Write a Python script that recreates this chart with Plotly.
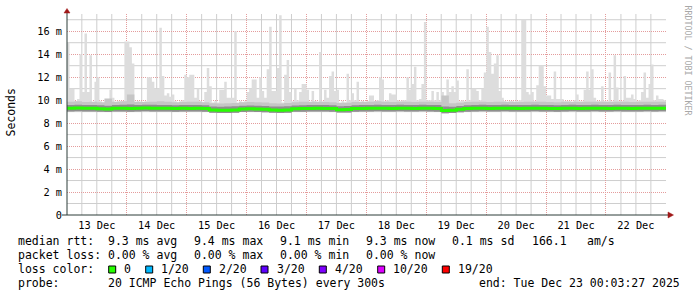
import pandas as pd
import plotly.graph_objects as go

# ---------------- data ----------------
start = "2025-12-13 00:03:27"
end = "2025-12-23 00:03:27"

# hourly max ping (ms) - top of the light smoke
ping_max = [
    15.0, 11.0, 11.0, 9.9, 10.1, 14.0, 10.7, 15.8, 10.7, 13.9,
    9.8, 11.6, 12.0, 9.9, 9.7, 9.7, 9.8, 10.9, 10.2, 9.8,
    9.9, 9.8, 9.9, 15.1, 15.1, 14.6, 13.2, 9.8, 9.9, 9.8,
    9.8, 9.9, 12.0, 12.0, 11.6, 11.0, 11.0, 16.3, 12.1, 10.4,
    10.6, 10.3, 10.5, 9.9, 9.8, 9.9, 10.0, 12.2, 12.0, 12.2,
    12.2, 10.2, 11.0, 9.9, 9.8, 10.7, 12.8, 11.2, 9.8, 9.9,
    9.8, 10.9, 10.9, 11.6, 10.2, 10.2, 10.2, 16.0, 9.8, 9.9,
    9.8, 9.9, 10.7, 11.0, 11.8, 11.8, 10.2, 12.0, 10.8, 10.2,
    12.7, 16.4, 10.8, 10.8, 12.8, 17.4, 9.8, 12.2, 13.5, 10.7,
    9.9, 11.0, 10.0, 10.7, 11.4, 11.4, 10.9, 9.8, 10.8, 9.9,
    9.8, 14.2, 9.9, 10.9, 10.2, 12.1, 12.5, 10.8, 10.9, 9.8,
    9.9, 9.8, 12.3, 10.0, 10.6, 10.0, 11.6, 9.8, 9.9, 9.8,
    9.9, 10.4, 10.4, 9.9, 10.0, 12.0, 11.8, 9.9, 10.0, 10.6,
    10.5, 10.5, 10.0, 9.9, 10.0, 10.0, 12.0, 10.9, 11.4, 12.9,
    10.0, 10.1, 11.4, 16.8, 10.0, 10.0, 10.8, 10.0, 10.7, 10.0,
    10.7, 9.9, 11.8, 10.7, 11.2, 10.7, 11.7, 9.9, 10.0, 9.9,
    12.7, 10.0, 11.0, 11.0, 10.8, 10.0, 11.0, 12.4, 16.4, 14.2,
    12.3, 13.2, 13.9, 10.8, 10.2, 9.9, 9.8, 9.9, 9.9, 9.8,
    9.9, 10.0, 17.0, 17.0, 10.7, 10.5, 10.7, 9.9, 11.3, 13.0,
    13.0, 11.2, 10.4, 10.4, 10.1, 12.5, 10.1, 10.1, 10.1, 9.9,
    9.9, 9.9, 9.8, 10.0, 10.5, 9.9, 9.9, 10.9, 12.5, 10.9,
    12.7, 10.2, 9.9, 9.9, 11.2, 9.9, 9.9, 12.4, 9.9, 13.9,
    11.1, 9.9, 9.9, 12.1, 10.2, 10.2, 10.5, 10.1, 9.9, 10.0,
    10.7, 12.4, 10.2, 11.4, 13.1, 10.0, 10.4, 10.1, 10.1, 10.0,
]

# 3-hourly median rtt (ms)
rtt_median = [
    9.30, 9.31, 9.30, 9.29, 9.24, 9.22, 9.29, 9.30, 9.27, 9.30,
    9.31, 9.30, 9.30, 9.29, 9.28, 9.30, 9.28, 9.29, 9.27, 9.14,
    9.12, 9.13, 9.15, 9.22, 9.24, 9.22, 9.20, 9.14, 9.13, 9.15,
    9.24, 9.27, 9.28, 9.29, 9.28, 9.27, 9.16, 9.18, 9.27, 9.28,
    9.29, 9.30, 9.29, 9.28, 9.30, 9.29, 9.28, 9.30, 9.29, 9.27,
    9.10, 9.12, 9.20, 9.27, 9.29, 9.30, 9.28, 9.29, 9.30, 9.29,
    9.28, 9.29, 9.30, 9.29, 9.28, 9.27, 9.29, 9.30, 9.28, 9.29,
    9.30, 9.29, 9.28, 9.30, 9.29, 9.28, 9.29, 9.30, 9.29, 9.30,
]

# 3-hourly smoke quantiles (ms)
smoke_low = [
    9.02, 9.03, 9.02, 9.01, 8.98, 8.97, 9.01, 9.02, 9.00, 9.02,
    9.03, 9.02, 9.02, 9.01, 9.00, 9.02, 9.01, 9.01, 9.00, 8.90,
    8.88, 8.89, 8.91, 8.97, 8.98, 8.97, 8.95, 8.90, 8.89, 8.91,
    8.98, 9.00, 9.01, 9.02, 9.01, 9.00, 8.92, 8.93, 9.00, 9.01,
    9.02, 9.03, 9.02, 9.01, 9.03, 9.02, 9.01, 9.03, 9.02, 9.00,
    8.86, 8.88, 8.95, 9.00, 9.02, 9.03, 9.01, 9.02, 9.03, 9.02,
    9.01, 9.02, 9.03, 9.02, 9.01, 9.00, 9.02, 9.03, 9.01, 9.02,
    9.03, 9.02, 9.01, 9.03, 9.02, 9.01, 9.02, 9.03, 9.02, 9.03,
]
smoke_q75 = [
    9.58, 9.60, 9.57, 9.58, 9.55, 9.52, 9.57, 9.60, 9.62, 9.58,
    9.59, 9.60, 9.57, 9.58, 9.56, 9.58, 9.57, 9.58, 9.55, 9.45,
    9.42, 9.44, 9.46, 9.52, 9.54, 9.52, 9.50, 9.45, 9.44, 9.46,
    9.53, 9.56, 9.57, 9.58, 9.57, 9.56, 9.47, 9.48, 9.56, 9.57,
    9.58, 9.59, 9.58, 9.57, 9.59, 9.58, 9.57, 9.60, 9.58, 9.57,
    9.45, 9.43, 9.50, 9.56, 9.58, 9.59, 9.57, 9.58, 9.59, 9.58,
    9.57, 9.58, 9.59, 9.58, 9.57, 9.56, 9.58, 9.59, 9.57, 9.58,
    9.59, 9.58, 9.57, 9.59, 9.58, 9.57, 9.58, 9.59, 9.58, 9.59,
]
smoke_upper = [
    9.85, 9.90, 9.84, 9.86, 9.82, 10.15, 9.85, 9.90, 10.50, 9.85,
    9.84, 9.86, 9.90, 9.85, 9.82, 9.84, 9.86, 9.85, 9.82, 9.72,
    9.70, 9.72, 9.75, 9.82, 9.84, 9.82, 9.80, 9.72, 9.71, 9.75,
    9.82, 9.85, 9.86, 9.85, 9.84, 9.82, 9.75, 9.77, 9.84, 9.85,
    9.86, 9.90, 9.85, 9.84, 9.86, 9.85, 9.84, 9.86, 9.85, 9.84,
    10.40, 9.72, 9.78, 9.84, 9.85, 9.86, 9.84, 9.85, 9.86, 9.85,
    9.84, 9.85, 9.86, 9.85, 9.84, 9.82, 9.85, 9.86, 9.84, 9.85,
    9.86, 9.85, 9.84, 9.86, 9.85, 9.84, 9.85, 9.86, 9.85, 9.86,
]

day_ticks = ["2025-12-%02d 12:00" % d for d in range(13, 23)]
day_labels = ["13 Dec", "14 Dec", "15 Dec", "16 Dec", "17 Dec",
              "18 Dec", "19 Dec", "20 Dec", "21 Dec", "22 Dec"]
grid_days = ["2025-12-%02d 00:00" % d for d in range(14, 24)]
grid_quarters = [t.strftime("%Y-%m-%d %H:%M")
                 for t in pd.date_range("2025-12-13 06:00", "2025-12-22 18:00", freq="6h")
                 if t.hour != 0]
y_ticks = [0, 2, 4, 6, 8, 10, 12, 14, 16]
y_labels = ["0", "2 m", "4 m", "6 m", "8 m", "10 m", "12 m", "14 m", "16 m"]
y_minor = [1, 3, 5, 7, 9, 11, 13, 15, 17]
y_top = 17.5

rtt_stats = [9.3, 9.4, 9.1, 9.3]
loss_stats = [0.00, 0.00, 0.00, 0.00]
stat_names = ["avg", "max", "min", "now"]
rtt_sd = 0.1
am_s = 166.1
loss_levels = ["0", "1/20", "2/20", "3/20", "4/20", "10/20", "19/20"]
loss_colors = ["#26ff00", "#00b8ff", "#0059ff", "#5e00ff", "#7e00ff", "#dd00ff", "#ff0000"]
probe_text = "20 ICMP Echo Pings (56 Bytes) every 300s"
end_text = "end: Tue Dec 23 00:03:27 2025"

# ---------------- geometry / style ----------------
W, H = 697, 297
PL, PT, PW, PH = 67, 14, 599, 201
MONO = "DejaVu Sans Mono"
MGRID = "#e49c9c"
GRID = "#cecece"
DASH = "1px,1px"


def px(x):
    return (x - PL) / PW


def py(y):
    return (PT + PH - y) / PH


t_hour = pd.date_range(start, periods=len(ping_max) + 1, freq="h")
t_3h = pd.date_range(start, periods=len(rtt_median) + 1, freq="3h")


def ext(a):
    return list(a) + [a[-1]]


fig = go.Figure()

# minor (grey) grid lines as shapes tied to the data axes
shapes = []
for t in grid_quarters:
    shapes.append(dict(type="line", xref="x", yref="y", x0=t, x1=t, y0=0, y1=y_top,
                       layer="below", line=dict(color=GRID, width=1)))
for v in y_minor:
    shapes.append(dict(type="line", xref="x", yref="y", x0=start, x1=end, y0=v, y1=v,
                       layer="below", line=dict(color=GRID, width=1)))


def band(lx, ly, ux, uy, color):
    fig.add_trace(go.Scatter(x=lx, y=ext(ly), mode="lines",
                             line=dict(width=0, shape="hv"), hoverinfo="skip"))
    fig.add_trace(go.Scatter(x=ux, y=ext(uy), mode="lines",
                             line=dict(width=0, shape="hv"), fill="tonexty",
                             fillcolor=color, hoverinfo="skip"))


band(t_3h, smoke_low, t_hour, ping_max, "#dddddd")
band(t_3h, smoke_low, t_3h, smoke_upper, "#c6c6c6")
band(t_3h, smoke_low, t_3h, smoke_q75, "#8e8e8e")

fig.add_trace(go.Scatter(x=t_3h, y=ext(rtt_median), mode="lines",
                         line=dict(color=loss_colors[0], width=3, shape="hv"),
                         hoverinfo="skip"))
# empty helper trace so the label axis is drawn
fig.add_trace(go.Scatter(x=[start, end], y=[None, None], xaxis="x2", yaxis="y",
                         mode="lines", hoverinfo="skip"))

axis_common = dict(type="date", range=[start, end], ticks="", showline=False,
                   zeroline=False)
fig.update_layout(
    width=W, height=H,
    margin=dict(l=PL, r=W - PL - PW, t=PT, b=H - PT - PH),
    paper_bgcolor="white", plot_bgcolor="white",
    showlegend=False,
    font=dict(family=MONO, color="black"),
    xaxis=dict(**axis_common, tickmode="array", tickvals=grid_days,
               showticklabels=False, showgrid=True,
               gridcolor=MGRID, griddash=DASH, gridwidth=1),
    xaxis2=dict(**axis_common, overlaying="x", anchor="y", side="bottom",
                tickmode="array", tickvals=day_ticks, ticktext=day_labels,
                showgrid=False, ticklabelstandoff=3,
                tickfont=dict(family=MONO, size=10.3, color="black")),
    yaxis=dict(
        range=[0, y_top], tickmode="array", tickvals=y_ticks, ticktext=y_labels,
        showgrid=True, gridcolor=MGRID, griddash=DASH, gridwidth=1,
        ticks="", showline=False, zeroline=False, ticklabelstandoff=4,
        tickfont=dict(family=MONO, size=10.3, color="black"),
    ),
)

AXIS = "#2c3c38"
ARROW = "#a01818"
shapes += [
    dict(type="line", xref="paper", yref="paper", x0=0, x1=0, y0=0, y1=py(12),
         line=dict(color=AXIS, width=1)),
    dict(type="line", xref="paper", yref="paper", x0=px(62), x1=px(669), y0=0, y1=0,
         line=dict(color=AXIS, width=1)),
    dict(type="path", xref="paper", yref="paper",
         path="M %f %f L %f %f L %f %f Z" % (px(64), py(13), px(67), py(8.5), px(70), py(13)),
         fillcolor=ARROW, line=dict(color=ARROW, width=0.5)),
    dict(type="path", xref="paper", yref="paper",
         path="M %f %f L %f %f L %f %f Z" % (px(668), py(212), px(673.5), py(215), px(668), py(218)),
         fillcolor=ARROW, line=dict(color=ARROW, width=0.5)),
]

ann = []


def text(s, x, y, size=11.5, **kw):
    d = dict(text=s, x=px(x), y=py(y), xref="paper", yref="paper", xanchor="left",
             yanchor="middle", showarrow=False, borderpad=0,
             font=dict(family=MONO, size=size, color="black"))
    d.update(kw)
    ann.append(d)


ROWS = [241, 255, 269, 283]
COLS = [107.3, 193.3, 279.3, 365.3]
text("median rtt:", 16.7, ROWS[0])
for v, n, c in zip(rtt_stats, stat_names, COLS):
    text("%.1f ms %s" % (v, n), c, ROWS[0])
text("%.1f ms sd" % rtt_sd, 451.3, ROWS[0])
text("%.1f" % am_s, 530.5, ROWS[0])
text("am/s", 586, ROWS[0])

text("packet loss:", 16.7, ROWS[1])
for v, n, c in zip(loss_stats, stat_names, COLS):
    text("%.2f %% %s" % (v, n), c, ROWS[1])

text("loss color:", 16.7, ROWS[2])
swatch_x = [108.7, 145.7, 203.3, 261.0, 319.3, 377.7, 442.3]
for lbl, col, sx in zip(loss_levels, loss_colors, swatch_x):
    shapes.append(dict(type="rect", xref="paper", yref="paper",
                       x0=px(sx), x1=px(sx + 7), y0=py(273), y1=py(266),
                       fillcolor=col, line=dict(color="black", width=1)))
    text(lbl, sx + 14.7, ROWS[2])

text("probe:", 16.7, ROWS[3])
text(probe_text, 107.3, ROWS[3])
text(end_text, 478, ROWS[3])

ann.append(dict(text="Seconds", x=px(10.5), y=py(113), xref="paper", yref="paper",
                xanchor="center", yanchor="middle", textangle=-90, showarrow=False,
                font=dict(family=MONO, size=11.5, color="black")))
ann.append(dict(text="RRDTOOL / TOBI OETIKER", x=px(687.5), y=py(60), xref="paper",
                yref="paper", xanchor="center", yanchor="middle", textangle=90,
                showarrow=False, font=dict(family=MONO, size=8.3, color="#a8a8a8")))

fig.update_layout(shapes=shapes, annotations=ann)
fig.write_html("out.html")
